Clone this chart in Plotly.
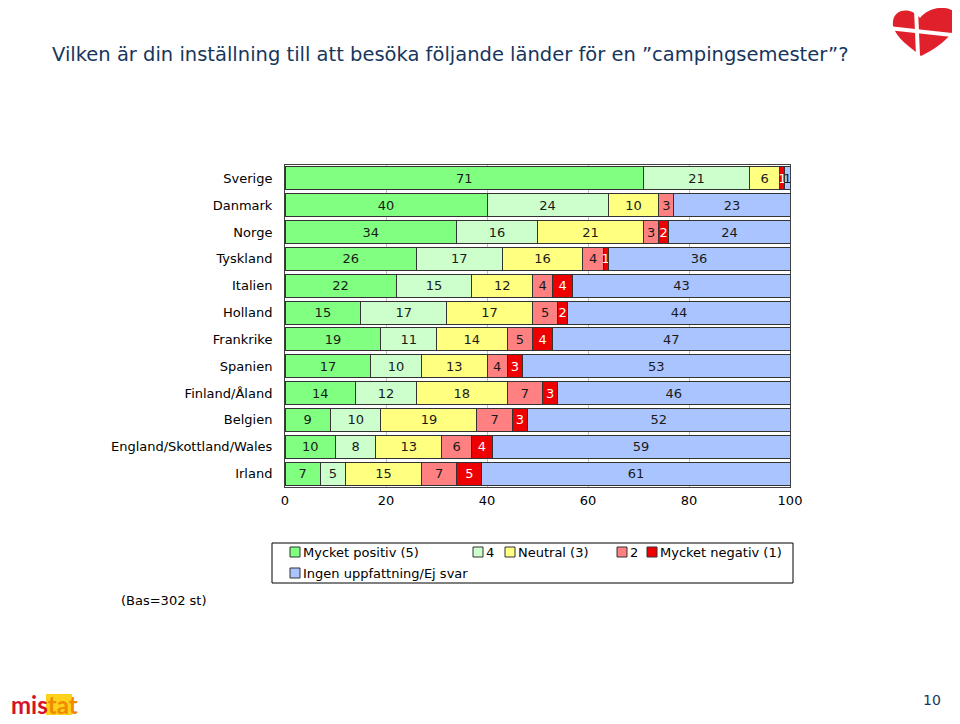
import plotly.graph_objects as go

countries = ["Sverige", "Danmark", "Norge", "Tyskland", "Italien", "Holland",
             "Frankrike", "Spanien", "Finland/Åland", "Belgien",
             "England/Skottland/Wales", "Irland"]
series_names = ["Mycket positiv (5)", "4", "Neutral (3)", "2", "Mycket negativ (1)",
                "Ingen uppfattning/Ej svar"]
mycket_positiv = [71, 40, 34, 26, 22, 15, 19, 17, 14, 9, 10, 7]
fyra = [21, 24, 16, 17, 15, 17, 11, 10, 12, 10, 8, 5]
neutral = [6, 10, 21, 16, 12, 17, 14, 13, 18, 19, 13, 15]
tva = [0, 3, 3, 4, 4, 5, 5, 4, 7, 7, 6, 7]
mycket_negativ = [1, 0, 2, 1, 4, 2, 4, 3, 3, 3, 4, 5]
ingen = [1, 23, 24, 36, 43, 44, 47, 53, 46, 52, 59, 61]
x_ticks = [0, 20, 40, 60, 80, 100]

values = [mycket_positiv, fyra, neutral, tva, mycket_negativ, ingen]
colors = ["#80FF80", "#CCFFCC", "#FFFF80", "#FF8080", "#EE0000", "#A9C4FF"]
text_colors = ["#1a1a1a", "#1a1a1a", "#1a1a1a", "#1a1a1a", "#FFFFFF", "#1a1a1a"]

FONT = "DejaVu Sans, Verdana, sans-serif"

# page offset of the figure in the browser (body margin)
OFF = 8
# plot area in screen pixels
L, R, T, B = 285, 790, 165, 487
W, H = 952, 716


def px(x):
    return (x - L) / (R - L)


def py(y):
    return (B - y) / (B - T)


fig = go.Figure()
for name, vals, col, tcol in zip(series_names, values, colors, text_colors):
    fig.add_trace(go.Bar(
        y=countries, x=vals, name=name, orientation="h",
        marker=dict(color=col, line=dict(color="#333333", width=1)),
        text=[str(v) if v > 0 else "" for v in vals],
        textposition="inside", insidetextanchor="middle",
        textfont=dict(family=FONT, size=13, color=tcol),
        constraintext="none", cliponaxis=False,
        showlegend=False, hoverinfo="x+name",
    ))

shapes = []
annotations = []

# manual legend (Excel-like layout)
shapes.append(dict(type="rect", xref="paper", yref="paper",
                   x0=px(272), x1=px(793), y0=py(583), y1=py(543),
                   line=dict(color="#000000", width=1), fillcolor="white", layer="below"))
legend_pos = [(290, 552), (473, 552), (505, 552), (617, 552), (647, 552), (290, 573)]
for (lx, ly), name, col in zip(legend_pos, series_names, colors):
    shapes.append(dict(type="rect", xref="paper", yref="paper",
                       x0=px(lx), x1=px(lx + 10), y0=py(ly + 5), y1=py(ly - 5),
                       line=dict(color="#333333", width=1), fillcolor=col))
    annotations.append(dict(xref="paper", yref="paper", x=px(lx + 11), y=py(ly),
                            text=name, showarrow=False, xanchor="left", yanchor="middle",
                            font=dict(family=FONT, size=13, color="#000000")))

# title
annotations.append(dict(xref="paper", yref="paper", x=px(50), y=py(55),
                        text="Vilken är din inställning till att besöka följande länder för en ”campingsemester”?",
                        showarrow=False, xanchor="left", yanchor="middle",
                        font=dict(family=FONT, size=19.5, color="#17365D")))
# base note
annotations.append(dict(xref="paper", yref="paper", x=px(164), y=py(600),
                        text="(Bas=302 st)", showarrow=False, xanchor="center", yanchor="middle",
                        font=dict(family=FONT, size=13, color="#000000")))
# page number
annotations.append(dict(xref="paper", yref="paper", x=px(932), y=py(700),
                        text="10", showarrow=False, xanchor="center", yanchor="middle",
                        font=dict(family=FONT, size=14, color="#17365D")))
# mistat logo text
shapes.append(dict(type="rect", xref="paper", yref="paper",
                   x0=px(46), x1=px(72), y0=py(715), y1=py(694),
                   line=dict(width=0), fillcolor="#FFD21A", layer="below"))
annotations.append(dict(xref="paper", yref="paper", x=px(9), y=py(704),
                        text="<b><span style='color:#D3142B'>mis</span><span style='color:#F08A00'>tat</span></b>",
                        showarrow=False, xanchor="left", yanchor="middle",
                        font=dict(family="Lato, sans-serif", size=24)))

# heart logo (Danish flag heart)
def P(x, y):
    return f"{px(x):.5f},{py(y):.5f}"

heart = (f"M {P(920, 18)} C {P(911, 6)} {P(891, 8)} {P(893, 26)} "
         f"C {P(896, 38)} {P(910, 47)} {P(921, 56)} "
         f"C {P(940, 47)} {P(957, 33)} {P(957, 18)} "
         f"C {P(956, 5)} {P(931, 4)} {P(920, 18)} Z")
shapes.append(dict(type="path", xref="paper", yref="paper", path=heart,
                   fillcolor="#E0202A", line=dict(width=0)))
shapes.append(dict(type="line", xref="paper", yref="paper",
                   x0=px(916), y0=py(9), x1=px(918), y1=py(56),
                   line=dict(color="white", width=4)))
shapes.append(dict(type="line", xref="paper", yref="paper",
                   x0=px(888), y0=py(28), x1=px(962), y1=py(36),
                   line=dict(color="white", width=4)))

fig.update_layout(
    width=W, height=H,
    margin=dict(l=L - OFF, r=W - (R - OFF), t=T - OFF, b=H - (B - OFF)),
    paper_bgcolor="white", plot_bgcolor="white",
    barmode="stack", bargap=0.14,
    showlegend=False,
    uniformtext=dict(minsize=13, mode="show"),
    font=dict(family=FONT, size=13, color="#000000"),
    shapes=shapes, annotations=annotations,
    xaxis=dict(range=[0, 100], tickvals=x_ticks, ticktext=[str(v) for v in x_ticks],
               showgrid=True, gridcolor="#BFBFBF", gridwidth=1, zeroline=False,
               showline=True, mirror=True, linecolor="#404040", linewidth=1,
               ticks="", tickfont=dict(family=FONT, size=13, color="#000000"),
               ticklabelstandoff=1),
    yaxis=dict(categoryorder="array", categoryarray=countries, autorange="reversed",
               showline=True, mirror=True, linecolor="#404040", linewidth=1,
               ticks="", ticklabelstandoff=9,
               tickfont=dict(family=FONT, size=13, color="#000000")),
)

fig.write_html("out.html")
